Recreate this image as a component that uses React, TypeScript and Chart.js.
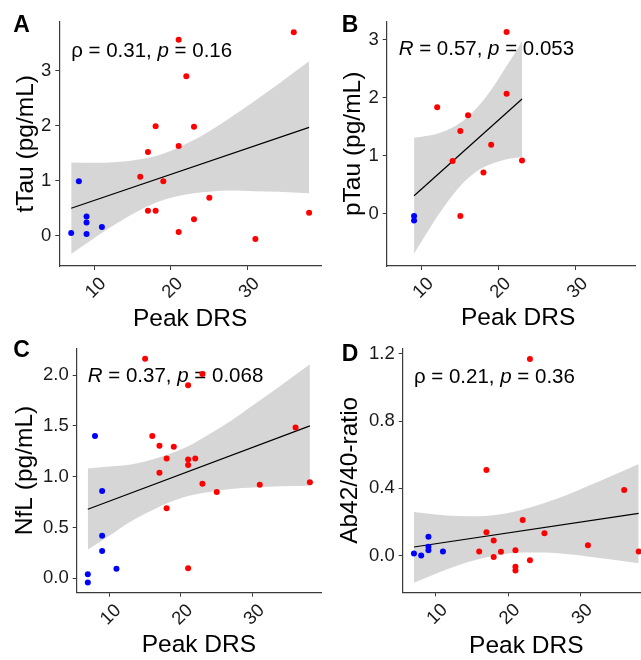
import React, { useEffect, useRef } from 'react';
import { Chart, registerables } from 'chart.js';

Chart.register(...registerables);

// ---------------- data ----------------
const xTickVals = [10, 20, 30];
const xTickLabels = ['10', '20', '30'];
const xMin = 5.45;
const xMax = 39.55;

// Panel A: tTau
const aBlueX = [7, 8, 9, 9, 9, 11];
const aBlueY = [0.05, 0.99, 0.35, 0.24, 0.03, 0.16];
const aRedX = [16, 17, 17, 18, 18, 19, 21, 21, 21, 22, 23, 23, 25, 31, 36, 38];
const aRedY = [1.07, 1.52, 0.455, 1.99, 0.455, 0.99, 3.56, 1.63, 0.07, 2.9, 1.98, 0.3, 0.69, -0.06, 3.7, 0.42];
const aFitX = [7, 38];
const aFitY = [0.5, 1.97];
const aBandX = [7, 10, 13, 16, 19, 22, 25, 28, 31, 34, 38];
const aBandHi = [1.33, 1.325, 1.34, 1.39, 1.49, 1.67, 1.9, 2.17, 2.46, 2.76, 3.17];
const aBandLo = [-0.33, -0.04, 0.23, 0.47, 0.65, 0.75, 0.8, 0.82, 0.81, 0.8, 0.77];
const aYTicks = [0, 1, 2, 3];
const aYLabels = ['0', '1', '2', '3'];
const aYRange = [-0.55, 3.89];

// Panel B: pTau
const bBlueX = [9, 9];
const bBlueY = [-0.04, -0.12];
const bRedX = [12, 14, 15, 15, 16, 18, 19, 21, 21, 23];
const bRedY = [1.84, 0.91, 1.43, -0.04, 1.7, 0.71, 1.19, 3.14, 2.07, 0.92];
const bFitX = [9, 23];
const bFitY = [0.31, 1.98];
const bBandX = [9, 10, 11, 12, 13, 14, 15, 16, 17, 18, 19, 20, 21, 22, 23];
const bBandHi = [1.31, 1.33, 1.35, 1.38, 1.43, 1.49, 1.57, 1.67, 1.81, 1.96, 2.14, 2.34, 2.55, 2.76, 2.98];
const bBandLo = [-0.69, -0.47, -0.26, -0.05, 0.14, 0.32, 0.48, 0.61, 0.72, 0.8, 0.86, 0.9, 0.94, 0.96, 0.98];
const bYTicks = [0, 1, 2, 3];
const bYLabels = ['0', '1', '2', '3'];
const bYRange = [-0.904, 3.316];

// Panel C: NfL
const cBlueX = [7, 7, 8, 9, 9, 9, 11];
const cBlueY = [0.04, -0.04, 1.4, 0.86, 0.42, 0.27, 0.095];
const cRedX = [15, 16, 17, 17, 18, 18, 19, 21, 21, 21, 21, 22, 23, 23, 25, 31, 36, 38];
const cRedY = [2.16, 1.4, 1.305, 1.04, 1.18, 0.69, 1.295, 1.9, 1.17, 1.115, 0.1, 1.18, 2.01, 0.93, 0.85, 0.92, 1.485, 0.945];
const cFitX = [7, 38];
const cFitY = [0.68, 1.5];
const cBandX = [7, 10, 13, 16, 18.5, 21, 24, 27, 30, 34, 38];
const cBandHi = [1.08, 1.1, 1.12, 1.17, 1.225, 1.3, 1.42, 1.55, 1.7, 1.9, 2.105];
const cBandLo = [0.285, 0.42, 0.56, 0.67, 0.75, 0.81, 0.85, 0.88, 0.895, 0.905, 0.91];
const cYTicks = [0, 0.5, 1, 1.5, 2];
const cYLabels = ['0.0', '0.5', '1.0', '1.5', '2.0'];
const cYRange = [-0.141, 2.263];

// Panel D: Ab42/40-ratio
const dBlueX = [7, 8, 9, 9, 9, 11];
const dBlueY = [0.014, 0.002, 0.113, 0.053, 0.032, 0.025];
const dRedX = [16, 17, 17, 18, 18, 19, 21, 21, 21, 22, 23, 23, 25, 31, 36, 38];
const dRedY = [0.025, 0.509, 0.14, 0.09, -0.007, 0.024, 0.032, -0.066, -0.087, 0.212, 1.168, -0.026, 0.134, 0.062, 0.39, 0.026];
const dFitX = [7, 38];
const dFitY = [0.052, 0.252];
const dBandX = [7, 10, 13, 16, 19, 22, 25, 28, 31, 34, 38];
const dBandHi = [0.26, 0.245, 0.236, 0.235, 0.246, 0.274, 0.313, 0.36, 0.414, 0.469, 0.545];
const dBandLo = [-0.16, -0.107, -0.058, -0.019, 0.008, 0.02, 0.019, 0.01, -0.004, -0.021, -0.045];
const dYTicks = [0, 0.4, 0.8, 1.2];
const dYLabels = ['0.0', '0.4', '0.8', '1.2'];
const dYRange = [-0.217, 1.232];

// stats annotation texts: [text, italic]
const aStat: [string, boolean][] = [['\u03C1 = 0.31, ', false], ['p', true], [' = 0.16', false]];
const bStat: [string, boolean][] = [['R', true], [' = 0.57, ', false], ['p', true], [' = 0.053', false]];
const cStat: [string, boolean][] = [['R', true], [' = 0.37, ', false], ['p', true], [' = 0.068', false]];
const dStat: [string, boolean][] = [['\u03C1 = 0.21, ', false], ['p', true], [' = 0.36', false]];

// ---------------- style ----------------
const FONT = '"Liberation Sans", Arial, Helvetica, sans-serif';
const AXIS_COLOR = '#3a3a3a';
const RED = '#FF0000';
const BLUE = '#0000FF';
const BAND = 'rgba(153,153,153,0.4)';

type Panel = {
  letter: string;
  letterPos: [number, number];
  yTitle: string;
  blueX: number[]; blueY: number[];
  redX: number[]; redY: number[];
  fitX: number[]; fitY: number[];
  bandX: number[]; bandHi: number[]; bandLo: number[];
  yTicks: number[]; yLabels: string[]; yRange: number[];
  stat: [string, boolean][];
  statPos: [number, number];
  left: number; top: number; w: number; h: number; clipW: number;
  area: { l: number; t: number; r: number; b: number };
  yTitlePad: number;
  xTitlePad: number;
};

const zip = (xs: number[], ys: number[]) => xs.map((x, i) => ({ x, y: ys[i] }));

const panels: Panel[] = [
  {
    letter: 'A', letterPos: [13.3, 31.7], yTitle: 'tTau (pg/mL)',
    blueX: aBlueX, blueY: aBlueY, redX: aRedX, redY: aRedY,
    fitX: aFitX, fitY: aFitY, bandX: aBandX, bandHi: aBandHi, bandLo: aBandLo,
    yTicks: aYTicks, yLabels: aYLabels, yRange: aYRange,
    stat: aStat, statPos: [7, 3.25],
    left: 0, top: 0, w: 324, h: 330, clipW: 324,
    area: { l: 59.3, t: 21.7, r: 322.5, b: 266 },
    yTitlePad: 14, xTitlePad: -1.1,
  },
  {
    letter: 'B', letterPos: [17.7, 31.7], yTitle: 'pTau (pg/mL)',
    blueX: bBlueX, blueY: bBlueY, redX: bRedX, redY: bRedY,
    fitX: bFitX, fitY: bFitY, bandX: bBandX, bandHi: bBandHi, bandLo: bBandLo,
    yTicks: bYTicks, yLabels: bYLabels, yRange: bYRange,
    stat: bStat, statPos: [7, 2.74],
    left: 324, top: 0, w: 330, h: 330, clipW: 312,
    area: { l: 62.7, t: 21.7, r: 325.6, b: 266 },
    yTitlePad: 17.4, xTitlePad: -0.5,
  },
  {
    letter: 'C', letterPos: [13.3, 26.7], yTitle: 'NfL (pg/mL)',
    blueX: cBlueX, blueY: cBlueY, redX: cRedX, redY: cRedY,
    fitX: cFitX, fitY: cFitY, bandX: cBandX, bandHi: cBandHi, bandLo: cBandLo,
    yTicks: cYTicks, yLabels: cYLabels, yRange: cYRange,
    stat: cStat, statPos: [7, 1.934],
    left: 0, top: 330, w: 324, h: 330, clipW: 324,
    area: { l: 76.7, t: 18.3, r: 323, b: 262.7 },
    yTitlePad: 13, xTitlePad: 2.85,
  },
  {
    letter: 'D', letterPos: [17.7, 30.7], yTitle: 'Ab42/40-ratio',
    blueX: dBlueX, blueY: dBlueY, redX: dRedX, redY: dRedY,
    fitX: dFitX, fitY: dFitY, bandX: dBandX, bandHi: dBandHi, bandLo: dBandLo,
    yTicks: dYTicks, yLabels: dYLabels, yRange: dYRange,
    stat: dStat, statPos: [7, 1.027],
    left: 324, top: 330, w: 330, h: 330, clipW: 317,
    area: { l: 78.7, t: 18.3, r: 325.9, b: 262.3 },
    yTitlePad: 14, xTitlePad: 1.85,
  },
];

function makeConfig(p: Panel): any {
  const annot = {
    id: 'annot' + p.letter,
    afterDatasetDraw(chart: any, args: any) {
      if (args.index !== 2) return;
      const ctx = chart.ctx;
      const xs = chart.scales.x;
      const ys = chart.scales.y;
      let cx = xs.getPixelForValue(p.statPos[0]);
      const cy = ys.getPixelForValue(p.statPos[1]);
      ctx.save();
      ctx.fillStyle = '#000';
      ctx.textAlign = 'left';
      ctx.textBaseline = 'alphabetic';
      for (const [t, it] of p.stat) {
        ctx.font = `${it ? 'italic ' : ''}20.5px ${FONT}`;
        ctx.fillText(t, cx, cy);
        cx += ctx.measureText(t).width;
      }
      ctx.restore();
    },
    afterDraw(chart: any) {
      const ctx = chart.ctx;
      ctx.save();
      ctx.fillStyle = '#000';
      ctx.font = `bold 23px ${FONT}`;
      ctx.textAlign = 'left';
      ctx.textBaseline = 'alphabetic';
      ctx.fillText(p.letter, p.letterPos[0], p.letterPos[1]);
      ctx.restore();
    },
  };

  return {
    type: 'scatter',
    data: {
      datasets: [
        {
          data: zip(p.redX, p.redY),
          backgroundColor: RED, borderWidth: 0, pointRadius: 3, pointHoverRadius: 3, clip: false,
        },
        {
          data: zip(p.blueX, p.blueY),
          backgroundColor: BLUE, borderWidth: 0, pointRadius: 3, pointHoverRadius: 3, clip: false,
        },
        {
          type: 'line',
          data: zip(p.fitX, p.fitY),
          borderColor: '#000', borderWidth: 1.2, pointRadius: 0, fill: false, tension: 0,
        },
        {
          type: 'line',
          data: zip(p.bandX, p.bandHi),
          borderColor: 'rgba(0,0,0,0)', borderWidth: 0.01, pointRadius: 0,
          backgroundColor: BAND, fill: '+1', cubicInterpolationMode: 'monotone',
        },
        {
          type: 'line',
          data: zip(p.bandX, p.bandLo),
          borderColor: 'rgba(0,0,0,0)', borderWidth: 0.01, pointRadius: 0,
          fill: false, cubicInterpolationMode: 'monotone',
        },
      ],
    },
    options: {
      responsive: false,
      animation: false,
      devicePixelRatio: 1,
      events: [],
      layout: { padding: { left: 0, top: p.area.t, right: p.w - p.area.r, bottom: 0 } },
      plugins: { legend: { display: false }, tooltip: { enabled: false } },
      scales: {
        x: {
          type: 'linear',
          min: xMin, max: xMax,
          afterBuildTicks: (s: any) => { s.ticks = xTickVals.map((v) => ({ value: v })); },
          afterFit: (s: any) => { s.height = p.h - p.area.b; },
          ticks: {
            autoSkip: false, minRotation: 45, maxRotation: 45, padding: 3, labelOffset: 9,
            color: '#1a1a1a', font: { family: FONT, size: 18.5 },
            callback: (v: number) => xTickLabels[xTickVals.indexOf(v)] ?? '',
          },
          grid: { display: true, drawOnChartArea: false, drawTicks: true, tickLength: 4, color: AXIS_COLOR, lineWidth: 1 },
          border: { display: true, color: AXIS_COLOR, width: 1.2 },
          title: {
            display: true, text: 'Peak DRS', color: '#000',
            font: { family: FONT, size: 24.5, lineHeight: 1 },
            padding: { top: 0, bottom: p.xTitlePad },
          },
        },
        y: {
          type: 'linear',
          min: p.yRange[0], max: p.yRange[1],
          afterBuildTicks: (s: any) => { s.ticks = p.yTicks.map((v) => ({ value: v })); },
          afterFit: (s: any) => { s.width = p.area.l; },
          ticks: {
            autoSkip: false, padding: 4,
            color: '#1a1a1a', font: { family: FONT, size: 18.5 },
            callback: (v: number) => p.yLabels[p.yTicks.indexOf(v)] ?? '',
          },
          grid: { display: true, drawOnChartArea: false, drawTicks: true, tickLength: 4, color: AXIS_COLOR, lineWidth: 1 },
          border: { display: true, color: AXIS_COLOR, width: 1.2 },
          title: {
            display: true, text: p.yTitle, color: '#000',
            font: { family: FONT, size: 24.5, lineHeight: 1 },
            padding: { top: p.yTitlePad, bottom: 0 },
          },
        },
      },
    },
    plugins: [annot],
  };
}

function PanelChart({ p }: { p: Panel }) {
  const ref = useRef<HTMLCanvasElement>(null);
  useEffect(() => {
    const chart = new Chart(ref.current as HTMLCanvasElement, makeConfig(p));
    return () => chart.destroy();
  }, [p]);
  return (
    <div style={{ position: 'absolute', left: p.left, top: p.top, width: p.clipW, height: p.h, overflow: 'hidden' }}>
      <canvas ref={ref} width={p.w} height={p.h} style={{ display: 'block', width: p.w, height: p.h }} />
    </div>
  );
}

export default function App() {
  return (
    <div style={{ position: 'absolute', left: 0, top: 0, width: 641, height: 660, overflow: 'hidden', background: '#fff' }}>
      {panels.map((p) => (
        <PanelChart key={p.letter} p={p} />
      ))}
    </div>
  );
}
